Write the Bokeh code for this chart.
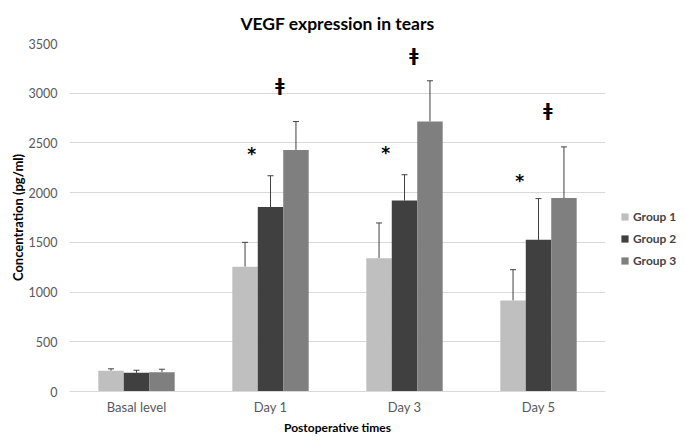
from bokeh.plotting import figure
from bokeh.layouts import row
from bokeh.models import (FactorRange, Range1d, Whisker, TeeHead, ColumnDataSource,
                          Legend, LegendItem, SingleIntervalTicker, Spacer)
from bokeh.transform import dodge
from bokeh.core.properties import value
from bokeh.embed import file_html
from bokeh.resources import INLINE

categories = ["Basal level", "Day 1", "Day 3", "Day 5"]
groups = ["Group 1", "Group 2", "Group 3"]
group1 = [208, 1255, 1340, 915]
group2 = [188, 1855, 1920, 1525]
group3 = [194, 2430, 2715, 1945]
group1_err = [20, 245, 355, 310]
group2_err = [26, 315, 260, 415]
group3_err = [30, 285, 410, 515]

mark_days = ["Day 1", "Day 3", "Day 5"]
star_y = [2385, 2395, 2115]
dagger_y = [3086, 3386, 2836]

colors = ["#bfbfbf", "#404040", "#7f7f7f"]
offsets = [-0.19, 0.0, 0.19]
bar_w = 0.19

FONT = "Lato"

p = figure(frame_width=536, frame_height=348, x_range=FactorRange(*categories),
           y_range=Range1d(0, 3500), output_backend="svg", toolbar_location=None,
           min_border_left=0, min_border_right=0, min_border_top=0, min_border_bottom=0)

p.title.text = "VEGF expression in tears"
p.title.align = "center"
p.title.text_font = FONT
p.title.text_font_size = "17.5px"
p.title.text_font_style = "bold"
p.title.text_color = "#000000"
p.title.standoff = 20

src = ColumnDataSource(dict(cat=categories, g1=group1, g2=group2, g3=group3,
                            g1u=[v + e for v, e in zip(group1, group1_err)],
                            g2u=[v + e for v, e in zip(group2, group2_err)],
                            g3u=[v + e for v, e in zip(group3, group3_err)]))

renderers = []
for i, key in enumerate(["g1", "g2", "g3"]):
    r = p.vbar(x=dodge("cat", offsets[i], range=p.x_range), top=key, width=bar_w,
               source=src, fill_color=colors[i], line_color=None)
    renderers.append(r)
    w = Whisker(base=dodge("cat", offsets[i], range=p.x_range), lower=key, upper=key + "u",
                source=src, dimension="height", line_color="#404040", line_width=1,
                lower_head=None, upper_head=TeeHead(size=6, line_color="#404040", line_width=1))
    p.add_layout(w)

msrc = ColumnDataSource(dict(cat=mark_days, sy=star_y, dy=dagger_y))
p.text(x=dodge("cat", -0.14, range=p.x_range), y="sy", text=value("*"), source=msrc,
       text_font=value("DejaVu Sans"), text_font_style="bold", text_font_size="17px",
       text_align="center", text_baseline="middle", text_color="#000000")
p.text(x=dodge("cat", 0.07, range=p.x_range), y="dy", text=value("\u01c2"), source=msrc,
       text_font=value("DejaVu Sans"), text_font_style="bold", text_font_size="17px",
       text_align="center", text_baseline="middle", text_color="#000000")

p.yaxis.ticker = SingleIntervalTicker(interval=500)
p.ygrid.grid_line_color = "#d9d9d9"
p.xgrid.grid_line_color = None
p.outline_line_color = None

for ax in (p.xaxis, p.yaxis):
    ax.major_tick_line_color = None
    ax.minor_tick_line_color = None
    ax.major_label_text_font = FONT
    ax.major_label_text_color = "#595959"
    ax.axis_label_text_font = FONT
    ax.axis_label_text_font_style = "bold"
    ax.axis_label_text_color = "#000000"

p.xaxis.major_label_text_font_size = "13px"
p.yaxis.major_label_text_font_size = "12.5px"
p.xaxis.axis_label_text_font_size = "12px"
p.yaxis.axis_label_text_font_size = "13px"

p.yaxis.axis_line_color = None
p.xaxis.axis_line_color = "#d9d9d9"
p.xaxis.major_label_standoff = 1
p.yaxis.major_label_standoff = 6
p.xaxis.axis_label = "Postoperative times"
p.yaxis.axis_label = "Concentration (pg/ml)"
p.xaxis.axis_label_standoff = 2
p.yaxis.axis_label_standoff = 0

legend = Legend(items=[LegendItem(label=groups[i], renderers=[renderers[i]]) for i in range(3)],
                location=(15, 122), glyph_width=9, glyph_height=9, label_height=18,
                spacing=4, padding=0, margin=0, border_line_color=None,
                background_fill_alpha=0, label_text_font=FONT, label_text_font_size="12px",
                label_text_font_style="bold", label_standoff=4)
p.add_layout(legend, "right")

layout = row(Spacer(width=6, height=10), p, spacing=0)

open("out.html", "w").write(file_html(layout, INLINE))
